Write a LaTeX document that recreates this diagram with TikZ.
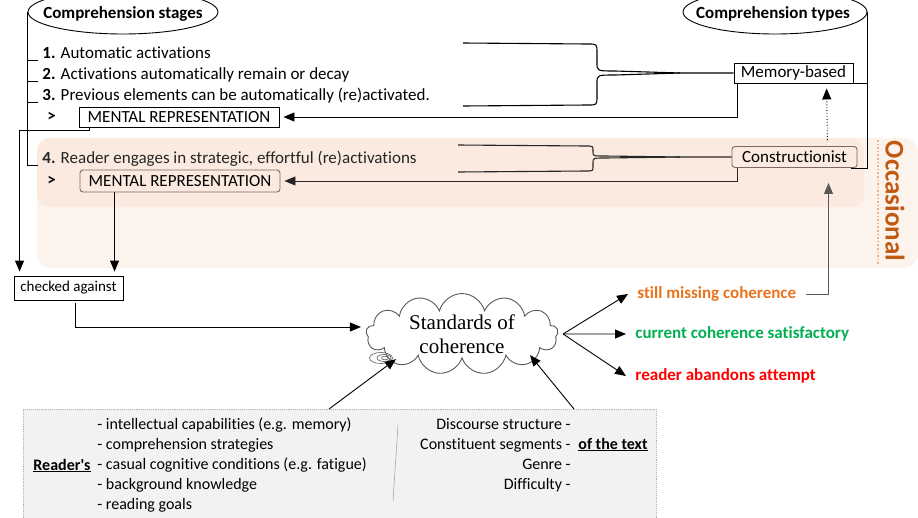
\documentclass[tikz,border=0pt]{standalone}
\usepackage{fontspec}
\setmainfont{Carlito}[Ligatures=NoCommon]
\newfontfamily\cloudfont{Liberation Serif}
\usepackage{xcolor}
\usetikzlibrary{arrows.meta,calc,positioning,shapes.geometric,shapes.symbols}
\definecolor{peachout}{HTML}{FDF3ED}
\definecolor{peachin}{HTML}{FBEADF}
\definecolor{occbrown}{HTML}{C05A12}
\definecolor{occdot}{HTML}{F4B183}
\definecolor{missorange}{HTML}{E8731C}
\definecolor{okgreen}{HTML}{00B050}
\definecolor{badred}{HTML}{FF0000}
\definecolor{factfill}{HTML}{F2F2F2}
\definecolor{boxbrown}{HTML}{7A6A62}
\tikzset{%
	headell/.style  = {draw, ellipse, minimum width=190pt, minimum height=44pt, inner sep=0pt},
	head/.style     = {inner sep=0pt, font=\fontsize{17}{20}\selectfont\bfseries},
	item/.style     = {inner sep=0pt, font=\fontsize{17}{20}\selectfont},
	mentalbox/.style= {draw, rectangle, minimum width=200pt, minimum height=20pt, inner sep=0pt, font=\fontsize{17}{20}\selectfont},
	typebox/.style  = {draw, rectangle, minimum width=119pt, minimum height=20pt, inner sep=0pt, font=\fontsize{17}{20}\selectfont},
	checkbox/.style = {draw, rectangle, minimum width=109pt, minimum height=24pt, inner sep=0pt, font=\fontsize{15}{18}\selectfont},
	standards/.style= {draw=gray!70!black, cloud, cloud puffs=13, cloud ignores aspect, minimum width=192pt, minimum height=78pt, inner sep=0pt, align=center, font=\cloudfont\fontsize{21}{24}\selectfont},
	outcome/.style  = {inner xsep=9pt, inner ysep=0pt, anchor=west, font=\fontsize{17}{20}\selectfont\bfseries},
	factbox/.style  = {draw=gray!60, densely dotted, fill=factfill, inner sep=0pt, anchor=north west},
	fact/.style     = {inner sep=0pt, font=\fontsize{16}{19}\selectfont},
	brace/.style    = {line width=1.1pt},
	arrow/.style    = {line width=0.9pt, -{Triangle[length=11pt,width=9pt]}},
}
\begin{document}
\begin{tikzpicture}[x=1pt, y=-1pt, line width=0.9pt]
	\useasboundingbox (0,0) rectangle (918,517);
	
	\fill[peachout, rounded corners=14pt] (37,138) rectangle (918,268);
	\fill[peachin, rounded corners=12pt] (37,138) rectangle (864,207);
	\draw[occdot, dotted, line width=1.6pt] (878,140) -- (878,265);
	\node[rotate=-90, inner sep=0pt, text=occbrown, font=\fontsize{27}{30}\selectfont\bfseries] (occ) at (895,201) {Occasional};
	
	\node[headell] (stages) at (123,12) {};
	\node[head, anchor=base] (stagestxt) at (123,18) {Comprehension stages};
	\node[headell, minimum width=184pt] (types) at (775,12) {};
	\node[head, anchor=base] (typestxt) at (773,18) {Comprehension types};
	
	\node[item, anchor=base west] (s1) at (42,58) {\textbf{1.} Automatic activations};
	\node[item, anchor=base west] (s2) at (42,79) {\textbf{2.} Activations automatically remain or decay};
	\node[item, anchor=base west] (s3) at (42,100) {\textbf{3.} Previous elements can be automatically (re)activated.};
	\node[item, anchor=base west] (g1) at (47,121) {\textbf{>}};
	\node[mentalbox] (mr1) at (179,117) {MENTAL REPRESENTATION};
	\node[item, anchor=base west, text=black!85] (s4) at (42,163) {\textbf{4.} Reader engages in strategic, effortful (re)activations};
	\node[item, anchor=base west] (g2) at (47,185) {\textbf{>}};
	\node[mentalbox, rounded corners=3pt, draw=boxbrown, minimum height=22pt] (mr2) at (180,181) {MENTAL REPRESENTATION};
	
	\draw (stages.west) |- (38,165);
	\foreach \y in {60,81,102} \draw (28,\y) -- (38,\y);
	
	\node[typebox] (mem) at (793.5,73) {Memory-based};
	\node[typebox, rounded corners=3pt, draw=boxbrown, minimum width=125pt, minimum height=21pt] (constr) at (794.5,157) {Constructionist};
	\draw (types.east) |- ([xshift=-6pt]constr.south east);
	\draw (mem.south east) -- (mem.south east -| types.east);
	
	\coordinate (memtop) at (463,43);
	\coordinate (membot) at (463,106);
	\draw[brace] (memtop) -- (588,44) .. controls (597,44) .. (597,53) -- (597,63) .. controls (597,71) .. (615,71) -- (680,73) -- (mem.west);
	\draw[brace] (membot) -- (588,105) .. controls (597,105) .. (597,96) -- (597,83) .. controls (597,75) .. (615,75) -- (680,73);
	\coordinate (contop) at (458,145);
	\coordinate (conbot) at (458,172);
	\draw[brace, black!85] (contop) -- (586,146) .. controls (593,146) .. (593,151) -- (593,152) .. controls (593,156) .. (605,156) -- (680,157) -- (constr.west);
	\draw[brace, black!85] (conbot) -- (586,171) .. controls (593,171) .. (593,166) -- (593,163) .. controls (593,158) .. (605,158) -- (680,157);
	
	\draw[arrow, shorten >=4pt] ([xshift=4pt]mem.south west) |- (mr1.east);
	\draw[arrow, black!85, shorten >=4pt] ([xshift=6pt]constr.south west) |- (mr2.east);
	\draw[arrow, dotted, shorten <=6pt, shorten >=5pt] ([xshift=33pt]constr.north) -- ([xshift=33pt]mem.south);
	
	\node[checkbox] (check) at (68.5,288) {checked against};
	\draw[arrow] ([xshift=11pt]mr1.south west) -- ++(0,3) -| ([xshift=6pt,yshift=4pt]check.north west);
	\coordinate (drop) at ([xshift=35pt]mr2.south west);
	\draw[arrow, shorten >=4pt] (drop) -- (drop |- check.north);
	
	\node[standards] (cloud) at (462,334) {Standards of\\coherence};
	\draw[gray!70!black, line width=0.6pt] (381,358) ellipse [x radius=11.5pt, y radius=5.5pt];
	\draw[gray!70!black, line width=0.6pt] (384,358) ellipse [x radius=7pt, y radius=3.5pt];
	\draw[gray!70!black, line width=0.6pt] (385,358) ellipse [x radius=3.5pt, y radius=1.8pt];
	\draw[arrow] ([xshift=7pt,yshift=-3pt]check.south) |- ([xshift=-5pt,yshift=7pt]cloud.west);
	
	\node[outcome, text=missorange] (miss) at (628,294) {still missing coherence};
	\node[outcome, text=okgreen] (good) at (626,334) {current coherence satisfactory};
	\node[outcome, text=badred] (quit) at (626,376) {reader abandons attempt};
	\coordinate (fork) at ([xshift=5pt]cloud.east);
	\foreach \n in {miss,good,quit} \draw[arrow] (fork) -- (\n.west);
	\draw[arrow, gray!70!black] (miss.east) -| ([xshift=34pt,yshift=-15pt]constr.south);
	
	\node[factbox, minimum width=633pt, minimum height=120pt] (factors) at (23,409) {};
	\node[fact, anchor=base west] (reader) at (33,470) {\bfseries\underline{Reader\textquotesingle s}};
	\foreach \txt [count=\i, evaluate=\i as \yy using 409+20*\i] in {- intellectual capabilities (e.g. memory), - comprehension strategies, - casual cognitive conditions (e.g. fatigue), - background knowledge, - reading goals}
		\node[fact, anchor=base west] (r\i) at (97,\yy) {\txt};
	\foreach \txt [count=\i, evaluate=\i as \yy using 409+20*\i] in {Discourse structure -, Constituent segments -, Genre -, Difficulty -}
		\node[fact, anchor=base east] (t\i) at (571,\yy) {\txt};
	\node[fact, anchor=base west] (oftext) at (578,449) {\bfseries\underline{of the text}};
	\draw[gray!70, line width=0.6pt] (398,425) -- (393,501);
	
	\draw[arrow] ([xshift=306pt]factors.north west) -- ([xshift=-66pt]cloud.south);
	\draw[arrow] ([xshift=551pt]factors.north west) -- ([xshift=68pt,yshift=4pt]cloud.south);
\end{tikzpicture}
\end{document}
